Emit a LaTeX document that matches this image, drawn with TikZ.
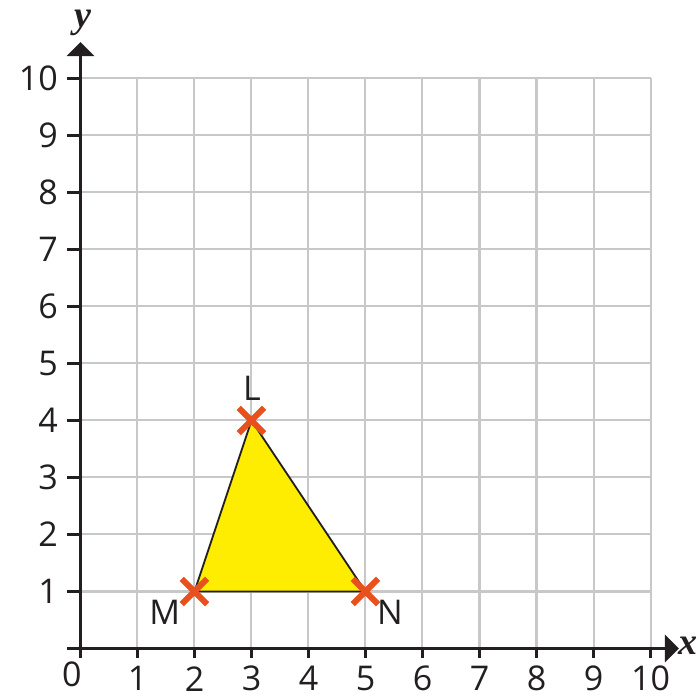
\documentclass[tikz,border=0pt]{standalone}
\usepackage{fontspec}
\setmainfont{Open Sans}
\newfontfamily\axisfont{Liberation Serif}
\usetikzlibrary{arrows.meta,shapes.misc}

\definecolor{gridgrey}{RGB}{200,200,200}
\definecolor{crossred}{RGB}{232,80,30}
\definecolor{fillyellow}{RGB}{255,237,0}
\definecolor{ink}{RGB}{35,31,32}

\tikzset{
  gridline/.style={gridgrey,line width=1pt},
  axis/.style={ink,line width=1.7pt},
  crossmark/.style={cross out,draw=crossred,line width=3pt,minimum size=0.34cm,inner sep=0pt},
  numlabel/.style={ink,font=\fontsize{17}{17}\selectfont,inner sep=0pt},
  axislabel/.style={ink,font=\fontsize{19}{19}\selectfont\axisfont\bfseries\itshape,inner sep=0pt},
}

\begin{document}
\begin{tikzpicture}
\useasboundingbox (-1.412,-0.851) rectangle (10.851,11.377);

% grid
\foreach \i in {1,...,10}{
  \draw[gridline] (\i,0) -- (\i,10);
  \draw[gridline] (0,\i) -- (10,\i);
}

% axes
\coordinate (O) at (0,0);
\coordinate (xend) at (10.50,0);
\coordinate (yend) at (0,10.64);
\draw[axis,-{Triangle[length=7pt,width=13.5pt]}] (O) -- (xend);
\draw[axis,-{Triangle[length=7pt,width=13.5pt]}] (O) -- (yend);

\foreach \i in {0,...,10}{
  \draw[axis] (\i,0) -- (\i,-0.16);
  \draw[axis] (0,\i) -- (-0.23,\i);
}
\foreach \i in {1,...,10}{
  \node[numlabel] (xl\i) at (\i,-0.53) {\i};
  \node[numlabel,anchor=east] (yl\i) at (-0.39,\i) {\i};
}
\node[numlabel] (zero) at (-0.15,-0.46) {0};

\node[axislabel] (xlab) at (10.66,0.04) {x};
\node[axislabel] (ylab) at (0.05,10.97) {y};

% triangle LMN
\coordinate (L) at (3,4);
\coordinate (M) at (2,1);
\coordinate (N) at (5,1);
\draw[ink,fill=fillyellow,line width=0.9pt,line join=round] (L) -- (M) -- (N) -- cycle;

\node[crossmark] (Lx) at (L) {};
\node[crossmark] (Mx) at (M) {};
\node[crossmark] (Nx) at (N) {};

\node[numlabel] (Llab) at (3.01,4.57) {L};
\node[numlabel] (Mlab) at (1.48,0.64) {M};
\node[numlabel] (Nlab) at (5.43,0.64) {N};
\end{tikzpicture}
\end{document}
